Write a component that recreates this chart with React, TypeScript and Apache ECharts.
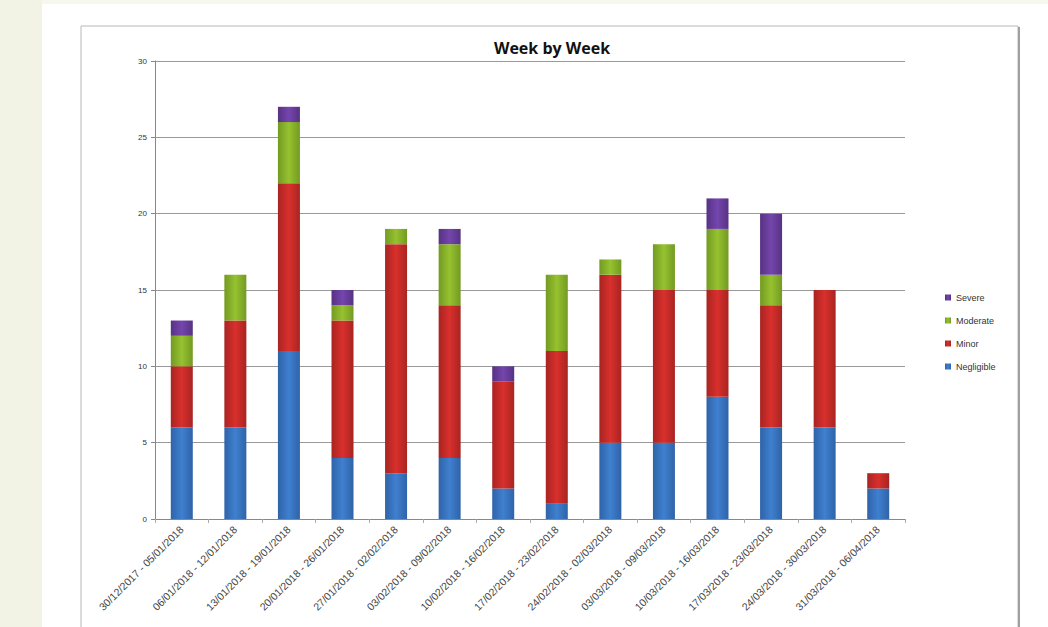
import React, { useEffect, useRef } from "react";
import * as echarts from "echarts";

// Weekly incident counts, stacked by severity
const weeks = [
  "30/12/2017 - 05/01/2018",
  "06/01/2018 - 12/01/2018",
  "13/01/2018 - 19/01/2018",
  "20/01/2018 - 26/01/2018",
  "27/01/2018 - 02/02/2018",
  "03/02/2018 - 09/02/2018",
  "10/02/2018 - 16/02/2018",
  "17/02/2018 - 23/02/2018",
  "24/02/2018 - 02/03/2018",
  "03/03/2018 - 09/03/2018",
  "10/03/2018 - 16/03/2018",
  "17/03/2018 - 23/03/2018",
  "24/03/2018 - 30/03/2018",
  "31/03/2018 - 06/04/2018",
];

const negligible = [6, 6, 11, 4, 3, 4, 2, 1, 5, 5, 8, 6, 6, 2];
const minor = [4, 7, 11, 9, 15, 10, 7, 10, 11, 10, 7, 8, 9, 1];
const moderate = [2, 3, 4, 1, 1, 4, 0, 5, 1, 3, 4, 2, 0, 0];
const severe = [1, 0, 1, 1, 0, 1, 1, 0, 0, 0, 2, 4, 0, 0];

const yTicks = { min: 0, max: 30, interval: 5 };

const legendOrder = ["Severe", "Moderate", "Minor", "Negligible"];

function shaded(base: string, edge: string) {
  return new echarts.graphic.LinearGradient(0, 0, 1, 0, [
    { offset: 0, color: edge },
    { offset: 0.5, color: base },
    { offset: 1, color: edge },
  ]);
}

export default function App() {
  const ref = useRef<HTMLDivElement>(null);

  useEffect(() => {
    if (!ref.current) return;
    const chart = echarts.init(ref.current, undefined, { renderer: "svg" });

    const bar = (name: string, data: number[], base: string, edge: string) => ({
      name,
      type: "bar",
      stack: "total",
      data,
      barWidth: 22,
      itemStyle: { color: shaded(base, edge) },
    });

    chart.setOption({
      animation: false,
      backgroundColor: "#ffffff",
      textStyle: { fontFamily: "Liberation Sans, Arial, sans-serif" },
      graphic: [
        { type: "rect", shape: { x: 0, y: 0, width: 42, height: 627 }, style: { fill: "#f2f3e4" }, z: -10 },
        { type: "rect", shape: { x: 42, y: 0, width: 1006, height: 4 }, style: { fill: "#f7f7ee" }, z: -10 },
        {
          type: "rect",
          shape: { x: 81, y: 26, width: 937, height: 620 },
          style: { fill: "#ffffff", stroke: "#b8b8b8", lineWidth: 1 },
          z: -9,
        },
        { type: "line", shape: { x1: 1019, y1: 27, x2: 1019, y2: 627 }, style: { stroke: "#a0a0a0", lineWidth: 2 }, z: -8 },
        {
          type: "text",
          x: 552,
          y: 48,
          style: {
            text: "Week by Week",
            font: "bold 16px 'Open Sans', 'Liberation Sans', sans-serif",
            fill: "#111",
            textAlign: "center",
            textVerticalAlign: "middle",
          },
        },
      ],
      legend: {
        data: legendOrder,
        orient: "vertical",
        left: 940,
        top: 288,
        itemWidth: 6,
        itemHeight: 6,
        itemGap: 14,
        icon: "rect",
        textStyle: { fontSize: 9, color: "#333" },
      },
      grid: { left: 155, top: 61, width: 750, height: 458, containLabel: false },
      xAxis: {
        type: "category",
        data: weeks,
        axisLine: { show: true, lineStyle: { color: "#888" } },
        axisTick: { show: true, length: 4, lineStyle: { color: "#aaa" } },
        axisLabel: { interval: 0, rotate: 45, fontSize: 10.5, color: "#444", margin: 9 },
      },
      yAxis: {
        type: "value",
        min: yTicks.min,
        max: yTicks.max,
        interval: yTicks.interval,
        axisLine: { show: true, lineStyle: { color: "#888" } },
        axisTick: { show: true, length: 4, lineStyle: { color: "#888" } },
        axisLabel: { fontSize: 8, color: "#333", margin: 8 },
        splitLine: { show: true, lineStyle: { color: "#999", width: 1 } },
      },
      series: [
        bar("Negligible", negligible, "#3f80cf", "#2f63a8"),
        bar("Minor", minor, "#d9302c", "#a82422"),
        bar("Moderate", moderate, "#96c230", "#739a22"),
        bar("Severe", severe, "#7446ad", "#573283"),
      ],
    });

    return () => chart.dispose();
  }, []);

  return (
    <div
      ref={ref}
      style={{ position: "fixed", left: 0, top: 0, width: 1048, height: 627 }}
    />
  );
}
